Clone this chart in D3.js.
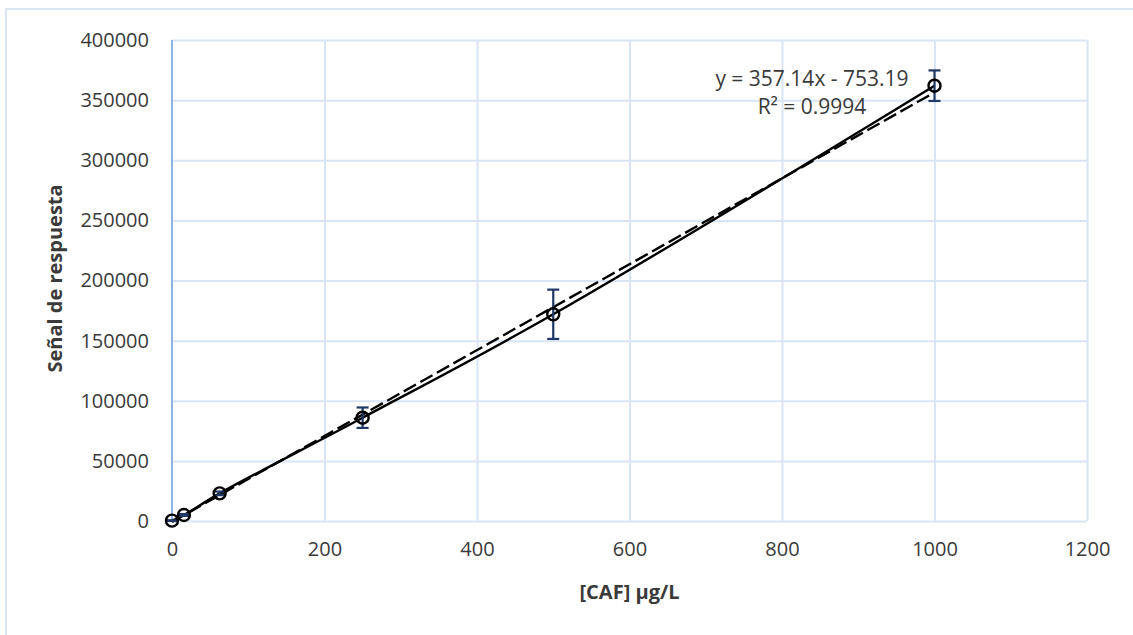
<!DOCTYPE html>
<html>
<head>
<meta charset="utf-8">
<script src="https://cdn.jsdelivr.net/npm/d3@7/dist/d3.min.js"></script>
<style>
  html, body { margin: 0; padding: 0; background: #fff; }
  svg { display: block; }
  text { font-family: "Open Sans", "Liberation Sans", sans-serif; fill: #3a3a3a; }
</style>
</head>
<body>
<svg id="chart" width="1133" height="635"></svg>
<script>
// Calibration data: caffeine concentration vs. detector response
const concentrations = [0, 15.625, 62.5, 250, 500, 1000];
const responses      = [300, 5000, 23000, 85900, 171900, 362000];
const errors         = [300, 800, 1500, 8500, 20500, 12700];

// Linear trendline coefficients and goodness of fit
const slope = 357.14;
const intercept = -753.19;
const rSquared = 0.9994;

const xTicks = [0, 200, 400, 600, 800, 1000, 1200];
const yTicks = [0, 50000, 100000, 150000, 200000, 250000, 300000, 350000, 400000];

const xTitle = "[CAF] µg/L";
const yTitle = "Señal de respuesta";

const svg = d3.select("#chart");
const W = 1133, H = 635;
const m = { left: 172, right: W - 1087, top: 40, bottom: H - 521 };

const x = d3.scaleLinear().domain([0, 1200]).range([m.left, W - m.right]);
const y = d3.scaleLinear().domain([0, 400000]).range([H - m.bottom, m.top]);

const gridColor = "#d9e5f4";
const tickFont = 20;

// Outer chart frame
svg.append("rect")
  .attr("x", 6).attr("y", 9)
  .attr("width", W + 10).attr("height", H + 10)
  .attr("fill", "none")
  .attr("stroke", "#dbe6f5")
  .attr("stroke-width", 2);

// Horizontal gridlines + y tick labels
const yAxis = d3.axisLeft(y).tickValues(yTicks).tickSize(-(x(1200) - x(0))).tickFormat(d3.format("d")).tickPadding(23);
const gy = svg.append("g").attr("transform", `translate(${x(0)},0)`).call(yAxis);
gy.select(".domain").remove();
gy.selectAll(".tick line").attr("stroke", gridColor).attr("stroke-width", 2);
gy.selectAll(".tick text").attr("font-size", tickFont).attr("fill", "#3a3a3a")
  .style("font-family", '"Open Sans", sans-serif');

// Vertical gridlines + x tick labels
const xAxis = d3.axisBottom(x).tickValues(xTicks).tickSize(-(y(0) - y(400000))).tickFormat(d3.format("d")).tickPadding(21);
const gx = svg.append("g").attr("transform", `translate(0,${y(0)})`).call(xAxis);
gx.select(".domain").remove();
gx.selectAll(".tick line").attr("stroke", gridColor).attr("stroke-width", 2);
gx.selectAll(".tick text").attr("font-size", tickFont).attr("fill", "#3a3a3a")
  .style("font-family", '"Open Sans", sans-serif');
gx.selectAll(".tick").filter(d => d === 0).select("line").remove();

// Vertical value axis line at x = 0
svg.append("line")
  .attr("x1", x(0)).attr("x2", x(0))
  .attr("y1", y(400000)).attr("y2", y(0))
  .attr("stroke", "#8fb4e3").attr("stroke-width", 2);

// Axis titles
svg.append("text")
  .attr("x", x(600)).attr("y", 599)
  .attr("text-anchor", "middle")
  .attr("font-size", 20).attr("font-weight", "bold")
  .text(xTitle);

svg.append("text")
  .attr("transform", `translate(62,${(y(0) + y(400000)) / 2 - 2}) rotate(-90)`)
  .attr("text-anchor", "middle")
  .attr("font-size", 20).attr("font-weight", "bold")
  .text(yTitle);

const pts = concentrations.map((c, i) => ({ c, r: responses[i], e: errors[i] }));

// Linear trendline (dashed)
const xMin = d3.min(concentrations), xMax = d3.max(concentrations);
svg.append("line")
  .attr("x1", x(xMin)).attr("y1", y(slope * xMin + intercept))
  .attr("x2", x(xMax)).attr("y2", y(slope * xMax + intercept))
  .attr("stroke", "#000").attr("stroke-width", 2.4)
  .attr("stroke-dasharray", "14,5");

// Smoothed data line
const line = d3.line().x(d => x(d.c)).y(d => y(d.r)).curve(d3.curveCatmullRom.alpha(0.5));
svg.append("path")
  .datum(pts)
  .attr("d", line)
  .attr("fill", "none")
  .attr("stroke", "#000")
  .attr("stroke-width", 2.4);

// Error bars
const errColor = "#203864";
const eb = svg.append("g");
pts.forEach(p => {
  const cx = x(p.c);
  eb.append("line").attr("x1", cx).attr("x2", cx)
    .attr("y1", y(p.r + p.e)).attr("y2", y(p.r - p.e))
    .attr("stroke", errColor).attr("stroke-width", 2.2);
  [p.r + p.e, p.r - p.e].forEach(v => {
    eb.append("line").attr("x1", cx - 6).attr("x2", cx + 6)
      .attr("y1", y(v)).attr("y2", y(v))
      .attr("stroke", errColor).attr("stroke-width", 2.2);
  });
});

// Markers
svg.append("g").selectAll("circle")
  .data(pts).join("circle")
  .attr("cx", d => x(d.c)).attr("cy", d => y(d.r))
  .attr("r", 6)
  .attr("fill", "none")
  .attr("stroke", "#000")
  .attr("stroke-width", 2.4);

// Trendline equation label
const eq = svg.append("text")
  .attr("text-anchor", "middle")
  .attr("font-size", 21);
eq.append("tspan").attr("x", 812).attr("y", 86)
  .text(`y = ${slope}x - ${Math.abs(intercept)}`);
eq.append("tspan").attr("x", 812).attr("y", 114)
  .text(`R² = ${rSquared}`);
</script>
</body>
</html>
